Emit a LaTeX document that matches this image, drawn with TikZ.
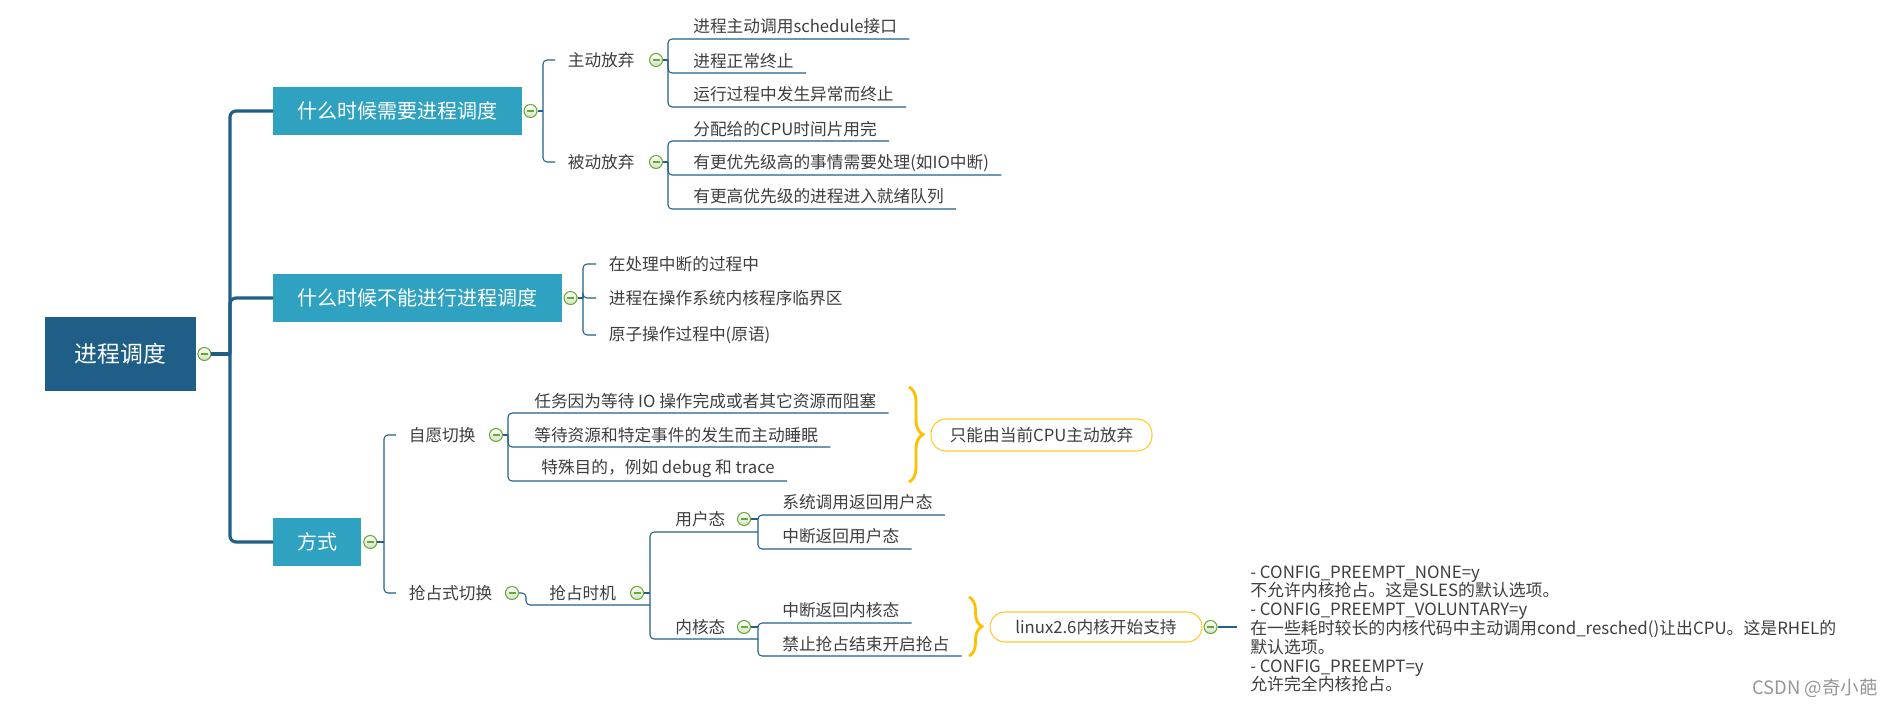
\documentclass[tikz,border=0pt]{standalone}
\usepackage{fontspec}
\setmainfont{Noto Sans CJK SC}
\usepackage{tikz}
\usetikzlibrary{positioning,calc,decorations.pathreplacing}

\definecolor{rootblue}{RGB}{31,95,135}
\definecolor{boxblue}{RGB}{46,162,192}
\definecolor{linkblue}{RGB}{36,96,136}
\definecolor{leafgray}{RGB}{62,62,62}
\definecolor{bracegold}{RGB}{255,192,0}
\definecolor{toggreen}{RGB}{104,170,48}
\definecolor{togfill}{RGB}{210,224,200}
\definecolor{markgray}{RGB}{150,150,150}

\newcommand\mmleaf{\fontsize{9.5}{11}\selectfont}
\newcommand\mmtopic{\fontsize{11.4}{13}\selectfont}
\newcommand\mmroot{\fontsize{13}{15}\selectfont}
\newcommand\mmnote{\fontsize{9.6}{10.7}\selectfont}

\tikzset{
  rootbox/.style={fill=rootblue,text=white,font=\mmroot,minimum width=3.02cm,minimum height=1.48cm,inner sep=0pt},
  topicbox/.style={fill=boxblue,text=white,font=\mmtopic,anchor=west,inner xsep=0.48cm,inner ysep=0pt,minimum height=0.96cm},
  tog/.style={circle,draw=toggreen,line width=0.6pt,inner sep=0pt,minimum size=0.26cm,top color=white,bottom color=togfill,
    path picture={\draw[toggreen,line width=0.9pt] ([xshift=-0.07cm]path picture bounding box.center) -- ([xshift=0.07cm]path picture bounding box.center);}},
  branch/.style={anchor=west,text=leafgray,font=\mmleaf,inner xsep=0.25cm,inner ysep=0pt},
  leaf/.style={anchor=south west,text=leafgray,font=\mmleaf,inner xsep=0.24cm,inner ysep=0pt,minimum height=0.48cm},
  link/.style={draw=linkblue,line width=0.6pt,rounded corners=0.08cm},
  trunk/.style={draw=rootblue,line width=1.8pt,rounded corners=0.12cm},
  gbrace/.style={draw=bracegold,line width=1.6pt,decorate,decoration={brace,amplitude=#1}},
  pill/.style={draw=bracegold!85,line width=0.6pt,rounded corners=0.3cm,text=leafgray,font=\mmleaf,inner xsep=0.34cm,inner ysep=0pt},
  note/.style={anchor=west,align=left,text=leafgray,font=\mmnote,inner xsep=0.26cm,inner ysep=0pt},
}

\begin{document}
\begin{tikzpicture}[x=0.02cm,y=-0.02cm,font=\mmleaf]
\path[use as bounding box,fill=white] (0,0) rectangle (1896,707);

\node[rootbox] (root) at (120.5,354) {进程调度};
\node[tog,right=0.02cm of root] (troot) {};
\node[topicbox] (when) at (273,111) {什么时候需要进程调度};
\node[topicbox] (never) at (273,298) {什么时候不能进行进程调度};
\node[topicbox] (how) at (273,542) {方式};
\node[tog,right=0.03cm of when] (twhen) {};
\node[tog,right=0.03cm of never] (tnever) {};
\node[tog,right=0.03cm of how] (thow) {};

\coordinate (jroot) at (230,354);
\draw[trunk] (troot.east) -- (jroot);
\foreach \nm in {when,never,how}{\draw[trunk] (jroot) |- (\nm.west);}

\node[branch] (self) at (555,60) {主动放弃};
\node[branch] (forced) at (555,162) {被动放弃};
\node[tog] (tself) at (656,60) {};
\node[tog] (tforced) at (656,162) {};
\node[branch] (vol) at (396,435) {自愿切换};
\node[branch] (pre) at (396,593) {抢占式切换};
\node[tog] (tvol) at (496,435) {};
\node[tog] (tpre) at (512,593) {};

\coordinate (jwhen) at (543,111);
\coordinate (jnever) at (583,298);
\coordinate (jhow) at (384,542);
\coordinate (jself) at (668,60);
\coordinate (jforced) at (668,162);
\coordinate (jvol) at (508,435);
\coordinate (jpre) at (526,593);
\coordinate (jmoment) at (650,605);
\coordinate (juser) at (758,532);
\coordinate (jkern) at (758,639);

\draw[link] (twhen.east) -- (jwhen);
\draw[link] (tnever.east) -- (jnever);
\draw[link] (thow.east) -- (jhow);
\foreach \nm in {self,forced}{\draw[link] (jwhen) |- (\nm.west);}
\foreach \nm in {vol,pre}{\draw[link] (jhow) |- (\nm.west);}

\foreach \nm/\yy/\txt in {c1/264/{在处理中断的过程中},c2/298/{进程在操作系统内核程序临界区},c3/335/{原子操作过程中(原语)}}{
  \node[branch] (\nm) at (596,\yy) {\txt};
  \draw[link] (jnever) |- (\nm.west);
}

\node[leaf] (moment) at (537,605) {抢占时机};
\node[tog] (tmoment) at (637,593) {};
\node[leaf] (user) at (663,532) {用户态};
\node[leaf] (kern) at (663,639) {内核态};
\node[tog] (tuser) at (744,519) {};
\node[tog] (tkern) at (744,627) {};

\foreach \nm/\xx/\yy/\txt in {a1/681/39/{进程主动调用schedule接口},a2/681/73/{进程正常终止},a3/681/107/{运行过程中发生异常而终止},
  b1/681/141/{分配给的CPU时间片用完},b2/681/175/{有更优先级高的事情需要处理(如IO中断)},b3/681/209/{有更高优先级的进程进入就绪队列},
  d1/522/413/{任务因为等待 IO 操作完成或者其它资源而阻塞},d2/522/447/{等待资源和特定事件的发生而主动睡眠},d3/529/481/{特殊目的，例如 debug 和 trace},
  e1/770/515/{系统调用返回用户态},e2/770/549/{中断返回用户态},f1/770/623/{中断返回内核态},f2/770/656/{禁止抢占结束开启抢占}}{
  \node[leaf] (\nm) at (\xx,\yy) {\txt};
}

\draw[link] (tself.east) -- (jself);
\draw[link] (tforced.east) -- (jforced);
\draw[link] (tvol.east) -- (jvol);
\draw[link] (tpre.east) -- (jpre) |- (jmoment);
\draw[link] (tmoment.east) -- (tmoment.east -| jmoment);
\draw[link] (tuser.east) -- (tuser.east -| juser);
\draw[link] (tkern.east) -- (tkern.east -| jkern);
\foreach \j in {juser,jkern}{\draw[link] (jmoment) |- (\j);}
\foreach \j/\nm in {jself/a1,jself/a2,jself/a3,jforced/b1,jforced/b2,jforced/b3,jvol/d1,jvol/d2,jvol/d3,juser/e1,juser/e2,jkern/f1,jkern/f2}{
  \draw[link] (\j) |- (\nm.south east);
}

\coordinate (bra) at (909,387);
\coordinate (brb) at (909,482);
\coordinate (brc) at (969,597);
\coordinate (brd) at (969,656);
\draw[gbrace=0.28cm] (bra) -- (brb);
\draw[gbrace=0.26cm] (brc) -- (brd);
\node[pill,minimum height=0.64cm,minimum width=4.42cm] (only) at (1041.5,435) {只能由当前CPU主动放弃};
\node[pill,minimum height=0.6cm,minimum width=4.24cm] (linux) at (1096,627) {linux2.6内核开始支持};
\node[tog,right=0.02cm of linux] (tlinux) {};

\node[note] (cfg) at (1237,629) {- CONFIG\_PREEMPT\_NONE=y\\
不允许内核抢占。这是SLES的默认选项。\\
- CONFIG\_PREEMPT\_VOLUNTARY=y\\
在一些耗时较长的内核代码中主动调用cond\_resched()让出CPU。这是RHEL的\\
默认选项。\\
- CONFIG\_PREEMPT=y\\
允许完全内核抢占。};
\draw[link] (tlinux.east) -- (tlinux.east -| cfg.west);

\node[text=markgray,font=\fontsize{10.5}{12}\selectfont] (wmark) at (1815,688) {CSDN @奇小葩};
\end{tikzpicture}
\end{document}
